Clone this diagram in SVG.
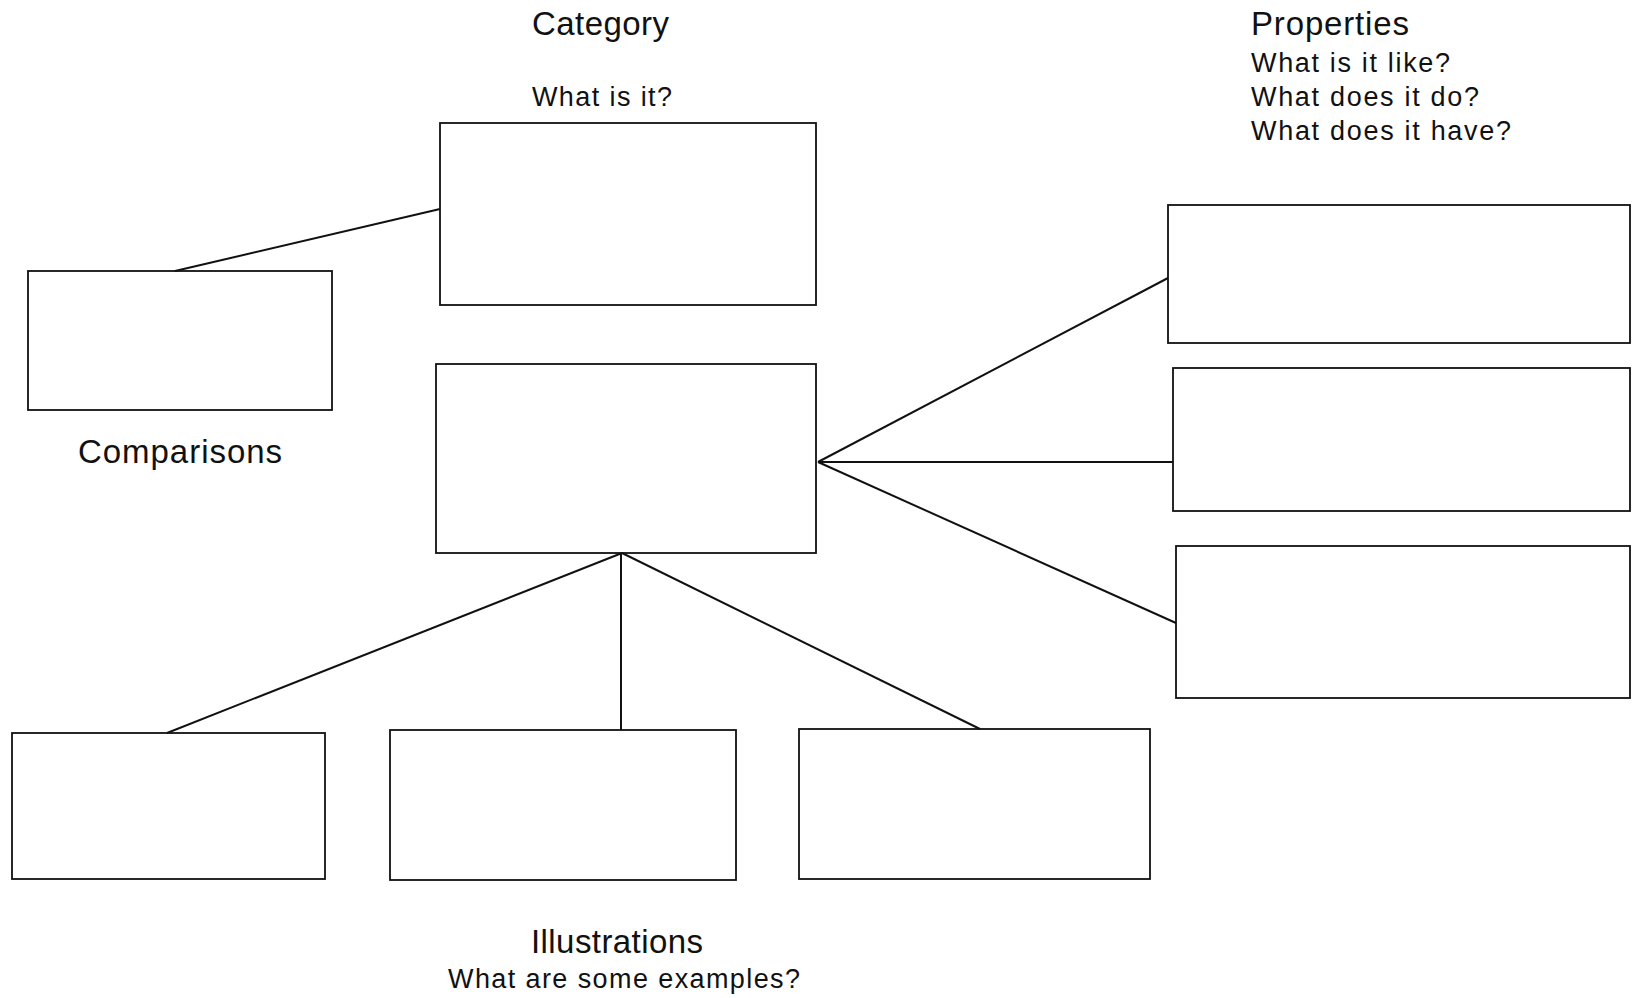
<svg xmlns="http://www.w3.org/2000/svg" width="1632" height="998" viewBox="0 0 1632 998">
<style>
.box{fill:none;stroke:#111;stroke-width:1.8}
.ln{fill:none;stroke:#111;stroke-width:2}
.h{font-family:"Liberation Sans",Arial,sans-serif;font-size:33px;fill:#111}
.s{font-family:"Liberation Sans",Arial,sans-serif;font-size:27px;fill:#111}
</style>
<rect width="1632" height="998" fill="#fff"/>
<g id="labels">
<text class="h" x="532" y="35" textLength="137">Category</text>
<text class="s" x="532" y="106" textLength="140">What is it?</text>
<text class="h" x="1251" y="35" textLength="158">Properties</text>
<text class="s" x="1251" y="72" textLength="199">What is it like?</text>
<text class="s" x="1251" y="106" textLength="228">What does it do?</text>
<text class="s" x="1251" y="140" textLength="260">What does it have?</text>
<text class="h" x="78" y="463" textLength="204">Comparisons</text>
<text class="h" x="531" y="953" textLength="172">Illustrations</text>
<text class="s" x="448" y="988" textLength="352">What are some examples?</text>
</g>
<g id="connectors">
<line class="ln" x1="175" y1="271" x2="440" y2="209"/>
<line class="ln" x1="818" y1="462" x2="1168" y2="278"/>
<line class="ln" x1="818" y1="462" x2="1173" y2="462"/>
<line class="ln" x1="818" y1="462" x2="1176" y2="623"/>
<line class="ln" x1="622" y1="553" x2="167" y2="733"/>
<line class="ln" x1="621" y1="553" x2="621" y2="730"/>
<line class="ln" x1="622" y1="553" x2="980" y2="729"/>
</g>
<g id="category"><rect class="box" x="440" y="123" width="376" height="182"/></g>
<g id="comparison"><rect class="box" x="28" y="271" width="304" height="139"/></g>
<g id="center"><rect class="box" x="436" y="364" width="380" height="189"/></g>
<g id="property1"><rect class="box" x="1168" y="205" width="462" height="138"/></g>
<g id="property2"><rect class="box" x="1173" y="368" width="457" height="143"/></g>
<g id="property3"><rect class="box" x="1176" y="546" width="454" height="152"/></g>
<g id="illustration1"><rect class="box" x="12" y="733" width="313" height="146"/></g>
<g id="illustration2"><rect class="box" x="390" y="730" width="346" height="150"/></g>
<g id="illustration3"><rect class="box" x="799" y="729" width="351" height="150"/></g>
</svg>
